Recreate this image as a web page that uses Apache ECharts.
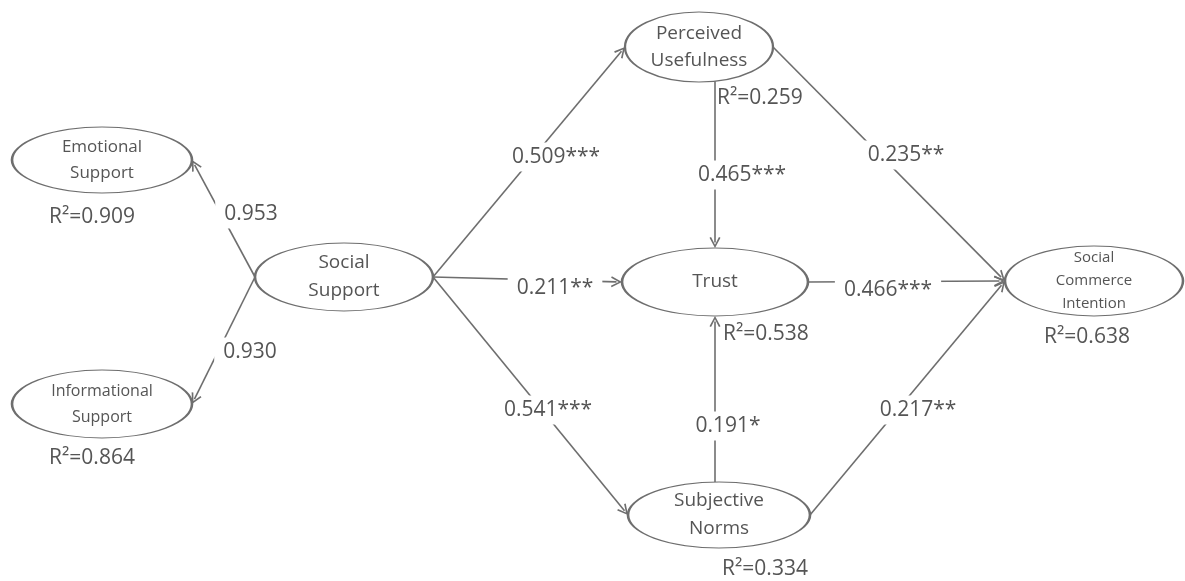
<!DOCTYPE html>
<html>
<head>
<meta charset="utf-8">
<title>Social commerce intention - structural model</title>
<script src="https://cdn.jsdelivr.net/npm/echarts@6/dist/echarts.min.js"></script>
<style>
  html, body { margin: 0; padding: 0; background: #fff; }
  #main { width: 1185px; height: 581px; }
</style>
</head>
<body>
<div id="main"></div>
<script>
// constructs of the model
var constructs = ['Emotional\nSupport', 'Informational\nSupport', 'Social\nSupport', 'Perceived\nUsefulness',
  'Trust', 'Subjective\nNorms', 'Social\nCommerce\nIntention'];
// explained variance of each construct ('' = exogenous, not shown)
var rSquared = ['0.909', '0.864', '', '0.259', '0.538', '0.334', '0.638'];
// structural paths: index of source and target construct
var pathFrom = [2, 2, 2, 2, 2, 3, 5, 3, 4, 5];
var pathTo = [0, 1, 3, 4, 5, 4, 4, 6, 6, 6];
// path coefficients with significance stars
var coefficients = ['0.953', '0.930', '0.509***', '0.211**', '0.541***', '0.465***', '0.191*', '0.235**', '0.466***', '0.217**'];

// ---- layout, in pixels of the 1185 x 581 canvas ----
// ellipse centre, half axes, font size / line height of the name
var nodeLayout = [
  { x: 102, y: 160, rx: 90, ry: 33, font: 17, lh: 26 },
  { x: 102, y: 404, rx: 90, ry: 34, font: 16, lh: 26 },
  { x: 344, y: 277, rx: 89, ry: 34, font: 19, lh: 28 },
  { x: 699, y: 47, rx: 74, ry: 35, font: 19, lh: 27 },
  { x: 715, y: 282, rx: 93, ry: 34, font: 19, lh: 28 },
  { x: 719, y: 515, rx: 91, ry: 33, font: 19, lh: 28 },
  { x: 1094, y: 281, rx: 89, ry: 35, font: 15, lh: 23 }
];
// side of the ellipse where each path leaves / arrives
var pathSides = [['left', 'right'], ['left', 'right'], ['right', 'left'], ['right', 'left'], ['right', 'left'],
  ['bottom', 'top'], ['top', 'bottom'], ['right', 'left'], ['right', 'left'], ['right', 'left']];
// where the coefficient text sits
var coefLabelPos = [[251, 214], [250, 352], [556, 157], [555, 288], [548, 410], [742, 175], [728, 426], [906, 155], [888, 290], [918, 410]];
// where the R² text sits (third item = text align)
var r2LabelPos = [[92, 217], [92, 458], null, [717, 98, 'left'], [723, 334, 'left'], [765, 569], [1087, 337]];

var textColor = '#555555';
var lineColor = '#6e6e6e';
var ellipsePath = 'path://M0,50A100,50,0,1,1,200,50A100,50,0,1,1,0,50Z';
var arrowPath = 'path://M0,10L5,0L10,10L8.6,10.7L5,3.2L1.4,10.7Z';
var arrowSize = 11;

// point on the ellipse border of node n
function anchor(n, side, xAt) {
  var L = nodeLayout[n];
  if (side === 'left') return [L.x - L.rx, L.y];
  if (side === 'right') return [L.x + L.rx, L.y];
  var k = (xAt - L.x) / L.rx;
  var dy = L.ry * Math.sqrt(1 - k * k);
  return [xAt, side === 'top' ? L.y - dy : L.y + dy];
}

var edgeData = pathFrom.map(function (f, i) {
  var t = pathTo[i];
  var xAt = nodeLayout[t].x;
  var p1 = anchor(f, pathSides[i][0], xAt);
  var p2 = anchor(t, pathSides[i][1], xAt);
  // pull the end back so the arrow tip touches the ellipse
  var dx = p2[0] - p1[0], dy = p2[1] - p1[1];
  var k = arrowSize / 2 / Math.sqrt(dx * dx + dy * dy);
  return { coords: [p1, [p2[0] - dx * k, p2[1] - dy * k]] };
});

var nodeData = constructs.map(function (name, i) {
  var L = nodeLayout[i];
  return {
    name: name,
    value: [L.x, L.y],
    symbolSize: [L.rx * 2, L.ry * 2],
    label: { fontSize: L.font, lineHeight: L.lh }
  };
});

var coefData = coefficients.map(function (c, i) {
  return { name: c, value: coefLabelPos[i] };
});

var r2Data = [];
rSquared.forEach(function (r, i) {
  if (!r) return;
  var p = r2LabelPos[i];
  r2Data.push({ name: 'R²=' + r, value: [p[0], p[1]], label: { align: p[2] || 'center' } });
});

var myChart = echarts.init(document.getElementById('main'));

var option = {
  animation: false,
  backgroundColor: '#fff',
  textStyle: { fontFamily: 'Open Sans' },
  grid: { left: 0, right: 0, top: 0, bottom: 0 },
  xAxis: { type: 'value', min: 0, max: 1185, show: false },
  yAxis: { type: 'value', min: 0, max: 581, inverse: true, show: false },
  series: [
    {
      // arrows between constructs
      type: 'lines',
      coordinateSystem: 'cartesian2d',
      z: 1,
      silent: true,
      symbol: ['none', arrowPath],
      symbolSize: arrowSize,
      lineStyle: { color: lineColor, width: 1.6, opacity: 1 },
      data: edgeData
    },
    {
      // ellipses
      type: 'scatter',
      z: 3,
      silent: true,
      symbol: ellipsePath,
      itemStyle: { color: '#fff', borderColor: lineColor, borderWidth: 1.6, opacity: 1 },
      label: { show: true, position: 'inside', formatter: '{b}', color: textColor, fontFamily: 'Open Sans', opacity: 1 },
      data: nodeData
    },
    {
      // coefficients, white box hides the line behind
      type: 'scatter',
      z: 4,
      silent: true,
      symbolSize: 1,
      itemStyle: { color: 'rgba(0,0,0,0)', opacity: 1 },
      label: {
        show: true, position: 'inside', formatter: '{b}', color: textColor, opacity: 1,
        fontFamily: 'Open Sans', fontSize: 21, backgroundColor: '#fff', padding: [4, 9]
      },
      data: coefData
    },
    {
      // R² values
      type: 'scatter',
      z: 4,
      silent: true,
      symbolSize: 1,
      itemStyle: { color: 'rgba(0,0,0,0)', opacity: 1 },
      label: { show: true, position: 'inside', formatter: '{b}', color: textColor, opacity: 1, fontFamily: 'Open Sans', fontSize: 21 },
      data: r2Data
    }
  ]
};

myChart.setOption(option);
</script>
</body>
</html>
